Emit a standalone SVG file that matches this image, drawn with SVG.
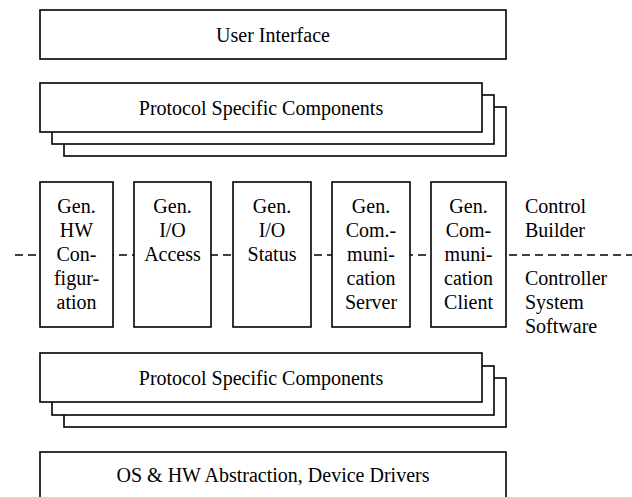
<svg xmlns="http://www.w3.org/2000/svg" width="632" height="497" viewBox="0 0 632 497">
<style>
.b{fill:#fff;stroke:#000;stroke-width:1.6}
.t{font-family:"Liberation Serif","Times New Roman",serif;font-size:20px;fill:#000;text-anchor:middle}
.l{font-family:"Liberation Serif","Times New Roman",serif;font-size:20px;fill:#000;text-anchor:start}
.d{stroke:#000;stroke-width:1.6;stroke-dasharray:8 5;fill:none}
</style>
<rect width="632" height="497" fill="#fff"/>
<g id="connectors">
<line class="d" x1="15" y1="255" x2="632" y2="255"/>
</g>
<g id="user-interface">
<rect class="b" x="40" y="10" width="466" height="49"/>
<text class="t" x="273" y="42">User Interface</text>
</g>
<g id="protocol-top">
<rect class="b" x="64" y="107" width="442" height="49"/>
<rect class="b" x="52" y="95" width="442" height="49"/>
<rect class="b" x="40" y="83" width="442" height="49"/>
<text class="t" x="261" y="115">Protocol Specific Components</text>
</g>
<g id="gen-hw-config">
<rect class="b" x="40" y="182" width="73" height="145"/>
<text class="t" x="76.5" y="213">Gen.</text>
<text class="t" x="76.5" y="237">HW</text>
<text class="t" x="76.5" y="261">Con-</text>
<text class="t" x="76.5" y="285">figur-</text>
<text class="t" x="76.5" y="309">ation</text>
</g>
<g id="gen-io-access">
<rect class="b" x="134" y="182" width="77" height="145"/>
<text class="t" x="172.5" y="213">Gen.</text>
<text class="t" x="172.5" y="237">I/O</text>
<text class="t" x="172.5" y="261">Access</text>
</g>
<g id="gen-io-status">
<rect class="b" x="233" y="182" width="78" height="145"/>
<text class="t" x="272" y="213">Gen.</text>
<text class="t" x="272" y="237">I/O</text>
<text class="t" x="272" y="261">Status</text>
</g>
<g id="gen-comm-server">
<rect class="b" x="332" y="182" width="78" height="145"/>
<text class="t" x="371" y="213">Gen.</text>
<text class="t" x="371" y="237">Com.-</text>
<text class="t" x="371" y="261">muni-</text>
<text class="t" x="371" y="285">cation</text>
<text class="t" x="371" y="309">Server</text>
</g>
<g id="gen-comm-client">
<rect class="b" x="431" y="182" width="75" height="145"/>
<text class="t" x="468.5" y="213">Gen.</text>
<text class="t" x="468.5" y="237">Com-</text>
<text class="t" x="468.5" y="261">muni-</text>
<text class="t" x="468.5" y="285">cation</text>
<text class="t" x="468.5" y="309">Client</text>
</g>
<g id="label-control-builder">
<text class="l" x="525" y="213">Control</text>
<text class="l" x="525" y="237">Builder</text>
</g>
<g id="label-controller-system">
<text class="l" x="525" y="285">Controller</text>
<text class="l" x="525" y="309">System</text>
<text class="l" x="525" y="333">Software</text>
</g>
<g id="protocol-bottom">
<rect class="b" x="64" y="378" width="442" height="49"/>
<rect class="b" x="52" y="366" width="442" height="49"/>
<rect class="b" x="40" y="353" width="442" height="49"/>
<text class="t" x="261" y="385">Protocol Specific Components</text>
</g>
<g id="os-hw">
<rect class="b" x="40" y="452" width="466" height="60"/>
<text class="t" x="273" y="482">OS &amp; HW Abstraction, Device Drivers</text>
</g>
</svg>
